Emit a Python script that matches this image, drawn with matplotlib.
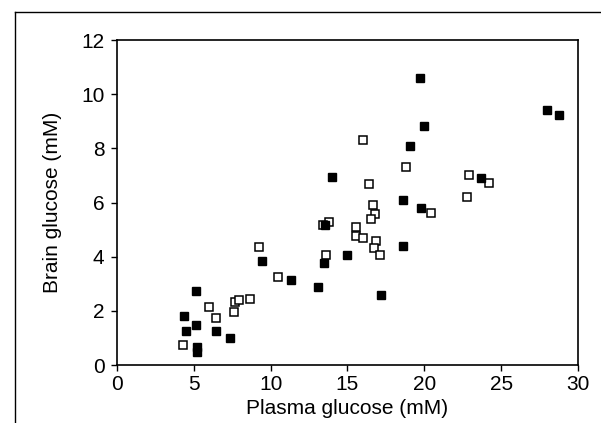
import matplotlib
matplotlib.use('Agg')
import matplotlib.pyplot as plt
from matplotlib.lines import Line2D

# values
filled_plasma = [5.14, 4.33, 5.13, 4.50, 6.44, 7.37, 5.20, 5.20, 9.46,
                 13.96, 18.60, 19.80, 13.53, 14.97, 18.60, 13.49, 11.31, 13.10, 17.20,
                 19.75, 20.00, 19.08, 28.00, 28.74, 23.67]
filled_brain = [2.73, 1.80, 1.46, 1.26, 1.26, 1.00, 0.65, 0.49, 3.84,
                6.95, 6.10, 5.80, 5.17, 4.05, 4.41, 3.77, 3.15, 2.89, 2.58,
                10.60, 8.81, 8.10, 9.42, 9.23, 6.91]

open_plasma = [4.28, 5.96, 6.41, 7.59, 7.65, 7.96, 8.68, 9.22, 10.46,
               18.82, 16.38, 20.45, 16.66, 16.79, 16.50, 13.79, 13.38, 15.57, 15.57,
               16.01, 16.88, 16.75, 17.12, 13.60, 16.03, 22.90, 24.21, 22.77]
open_brain = [0.74, 2.14, 1.73, 1.96, 2.33, 2.40, 2.43, 4.36, 3.25,
              7.32, 6.69, 5.60, 5.90, 5.58, 5.38, 5.27, 5.17, 5.09, 4.77,
              4.68, 4.59, 4.32, 4.07, 4.06, 8.29, 7.00, 6.73, 6.22]

xticks = [0, 5, 10, 15, 20, 25, 30]
yticks = [0, 2, 4, 6, 8, 10, 12]

plt.rcParams['font.family'] = ['Liberation Sans', 'DejaVu Sans']

fig = plt.figure(figsize=(6.01, 4.23), dpi=100)
ax = fig.add_axes([0.1947, 0.1371, 0.767, 0.7683])

ax.plot(open_plasma, open_brain, linestyle='none', marker='s', markersize=5.2,
        markerfacecolor='white', markeredgecolor='black', markeredgewidth=1.1)
ax.plot(filled_plasma, filled_brain, linestyle='none', marker='s', markersize=6,
        markerfacecolor='black', markeredgecolor='black')

ax.set_xlim(0, 30)
ax.set_ylim(0, 12)
ax.set_xticks(xticks)
ax.set_yticks(yticks)
ax.tick_params(direction='out', length=4, width=1, labelsize=15)
ax.tick_params(axis='x', pad=3)
ax.tick_params(axis='y', pad=5)
for s in ax.spines.values():
    s.set_linewidth(1.2)

ax.set_xlabel('Plasma glucose (mM)', fontsize=15, labelpad=4)
ax.set_ylabel('Brain glucose (mM)', fontsize=15, labelpad=14)

# outer frame lines (top and left) as in the scanned figure
fig.add_artist(Line2D([15 / 601, 1.0], [1 - 12 / 423, 1 - 12 / 423],
                      transform=fig.transFigure, color='black', linewidth=1))
fig.add_artist(Line2D([15 / 601, 15 / 601], [0.0, 1 - 12 / 423],
                      transform=fig.transFigure, color='black', linewidth=1))

fig.savefig('out.png', dpi=100)
